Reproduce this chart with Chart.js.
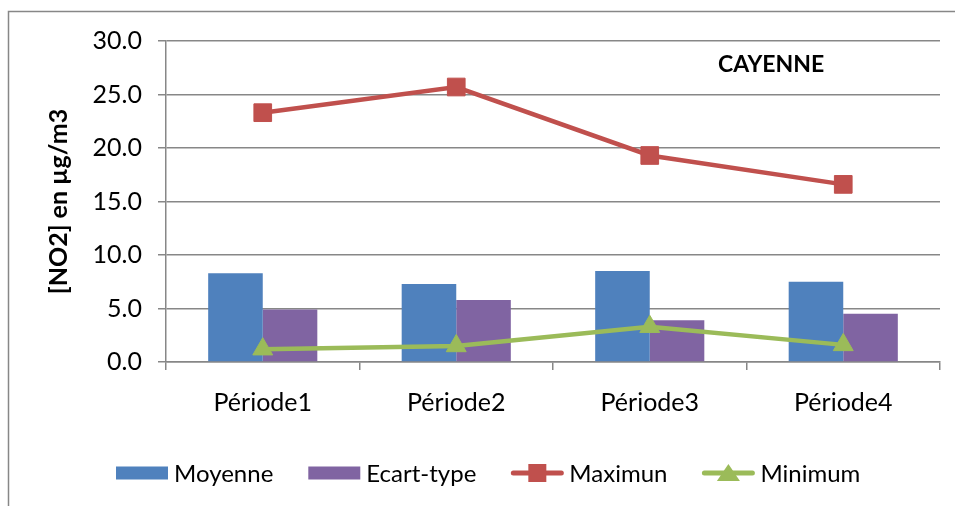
<!DOCTYPE html>
<html>
<head>
<meta charset="utf-8">
<script src="https://cdn.jsdelivr.net/npm/chart.js@4"></script>
<style>
  html, body { margin: 0; padding: 0; background: #fff; }
  #wrap { position: relative; width: 955px; height: 506px; }
</style>
</head>
<body>
<div id="wrap"><canvas id="graphique" width="955" height="506"></canvas></div>
<script>
// Données (NO2, Cayenne)
const periodes = ["Période1", "Période2", "Période3", "Période4"];
const moyenne = [8.3, 7.3, 8.5, 7.5];
const ecartType = [4.9, 5.8, 3.9, 4.5];
const maximun = [23.3, 25.7, 19.3, 16.6];
const minimum = [1.2, 1.5, 3.3, 1.6];
const yMin = 0, yMax = 30, yPas = 5;

const POLICE = "Lato";
const GRIS = "#878787";

// cadre, titre "CAYENNE" et légende dessinés à la main (style Excel)
const decorExcel = {
  id: "decorExcel",
  beforeDraw(chart) {
    const ctx = chart.ctx;
    ctx.save();
    ctx.fillStyle = "#fff";
    ctx.fillRect(0, 0, chart.width, chart.height);
    ctx.strokeStyle = GRIS;
    ctx.lineWidth = 1.5;
    ctx.beginPath();
    ctx.moveTo(8.5, chart.height);
    ctx.lineTo(8.5, 11.5);
    ctx.lineTo(chart.width, 11.5);
    ctx.stroke();
    ctx.restore();
  },
  afterDraw(chart) {
    const ctx = chart.ctx;
    ctx.save();
    ctx.fillStyle = "#000";
    ctx.font = "bold 23px " + POLICE;
    ctx.textBaseline = "alphabetic";
    ctx.textAlign = "left";
    ctx.fillText("CAYENNE", 718, 72);

    // légende
    ctx.font = "24px " + POLICE;
    ctx.textBaseline = "middle";
    const yc = 473;
    let x = 116;
    chart.data.datasets.forEach(ds => {
      if (ds.type === "line") {
        ctx.strokeStyle = ds.borderColor;
        ctx.lineWidth = 5;
        ctx.lineCap = "round";
        ctx.beginPath();
        ctx.moveTo(x + 2, yc);
        ctx.lineTo(x + 50, yc);
        ctx.stroke();
        ctx.fillStyle = ds.borderColor;
        const cx = x + 26;
        if (ds.pointStyle === "rect") {
          ctx.fillRect(cx - 9, yc - 9, 18, 18);
        } else {
          ctx.beginPath();
          ctx.moveTo(cx, yc - 9);
          ctx.lineTo(cx + 11.5, yc + 8);
          ctx.lineTo(cx - 11.5, yc + 8);
          ctx.closePath();
          ctx.fill();
        }
      } else {
        ctx.fillStyle = ds.backgroundColor;
        ctx.fillRect(x, yc - 6.5, 52, 13);
      }
      ctx.fillStyle = "#000";
      ctx.fillText(ds.label, x + 58, yc + 1);
      x += 58 + ctx.measureText(ds.label).width + 35;
    });
    ctx.restore();
  }
};

new Chart(document.getElementById("graphique"), {
  type: "bar",
  data: {
    labels: periodes,
    datasets: [
      { label: "Moyenne", data: moyenne, backgroundColor: "#4f81bd", order: 2 },
      { label: "Ecart-type", data: ecartType, backgroundColor: "#8064a2", order: 2 },
      {
        label: "Maximun", type: "line", data: maximun,
        borderColor: "#c0504d", backgroundColor: "#c0504d", borderWidth: 4.5,
        pointStyle: "rect", pointRadius: 12.5, pointBorderWidth: 1,
        tension: 0, order: 1
      },
      {
        label: "Minimum", type: "line", data: minimum,
        borderColor: "#9bbb59", backgroundColor: "#9bbb59", borderWidth: 4.5,
        pointStyle: "triangle", pointRadius: 11.5, pointBorderWidth: 1,
        tension: 0, order: 1
      }
    ]
  },
  options: {
    responsive: false,
    animation: false,
    categoryPercentage: 0.564,
    barPercentage: 1,
    layout: { padding: { top: 41, right: 15, left: 0, bottom: 0 } },
    plugins: {
      legend: { display: false },
      tooltip: { enabled: false }
    },
    scales: {
      x: {
        grid: { drawOnChartArea: false, color: GRIS, lineWidth: 1.5, tickLength: 8 },
        border: { color: GRIS, width: 1.5 },
        ticks: { color: "#000", font: { family: POLICE, size: 25 }, padding: 18 },
        afterFit: s => { s.height = 144; }
      },
      y: {
        min: yMin, max: yMax,
        grid: { color: GRIS, lineWidth: 1.5, tickLength: 8 },
        border: { color: GRIS, width: 1.5 },
        ticks: {
          stepSize: yPas, color: "#000", padding: 16,
          font: { family: POLICE, size: 25 },
          callback: v => v.toFixed(1)
        },
        title: {
          display: true, text: "[NO2] en µg/m3", color: "#000",
          font: { family: POLICE, size: 25, weight: "bold" },
          padding: { top: 44, bottom: 0 }
        },
        afterFit: s => { s.width = 166; }
      }
    }
  },
  plugins: [decorExcel]
});
</script>
</body>
</html>
